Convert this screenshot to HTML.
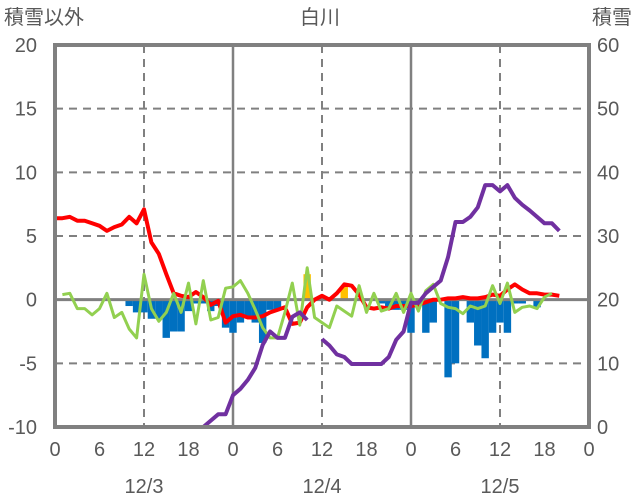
<!DOCTYPE html>
<html><head><meta charset="utf-8"><style>
html,body{margin:0;padding:0;background:#fff;}
svg{display:block;font-family:"Liberation Sans","Noto Sans CJK JP",sans-serif;}
</style></head><body>
<svg id="chart" width="636" height="501" viewBox="0 0 636 501" xmlns="http://www.w3.org/2000/svg">
<g id="grid"></g>
<g id="bars"></g>
<g id="lines"></g>
<g id="frame"></g>
<g id="labels"></g>
</svg>
<script>
const leftTicks=[20,15,10,5,0,-5,-10];
const rightTicks=[60,50,40,30,20,10,0];
const hourLabels=["0","6","12","18","0","6","12","18","0","6","12","18","0"];
const dateLabels=["12/3","12/4","12/5"];
const redSeries=[6.4,6.4,6.5,6.2,6.2,6.0,5.8,5.4,5.7,5.9,6.5,6.0,7.1,4.5,3.6,2.0,0.5,0.3,0.2,0.6,0.2,-0.4,-0.1,-1.8,-1.3,-1.2,-1.4,-1.4,-1.3,-1.0,-0.8,-0.6,-1.9,-1.8,-0.6,0.0,0.3,0.0,0.5,1.2,1.1,0.4,-0.6,-0.7,-0.6,-0.7,-0.5,-0.5,-0.5,-0.4,-0.2,0.0,0.0,0.1,0.1,0.2,0.1,0.1,0.2,0.4,0.3,0.8,1.2,0.8,0.5,0.5,0.4,0.4,0.3];
const greenSeries=[null,0.4,0.5,-0.7,-0.7,-1.2,-0.7,0.5,-1.4,-1.0,-2.3,-3.0,2.0,-0.7,-1.7,-1.0,0.5,-1.0,1.3,-1.9,1.5,-1.6,-1.4,0.9,1.0,1.5,0.5,-0.8,-2.2,-3.0,-3.0,-1.0,1.3,-2.0,2.5,-1.4,-1.8,-2.2,-0.5,-0.9,-1.3,1.1,-1.0,0.5,-0.9,-0.7,0.5,-1.0,0.5,-0.9,0.7,1.2,-0.3,-0.6,-0.7,-1.1,-0.5,-0.7,-0.5,1.1,-0.3,1.3,-1.0,-0.6,-0.5,-0.7,0.2,0.5,null];
const blueBars=[0,0,0,0,0,0,0,0,0,0,-0.5,-1.0,-1.0,-1.5,-1.5,-3.0,-2.5,-2.5,-0.9,-0.3,-0.3,-0.9,-0.5,-2.2,-2.6,-1.8,-1.3,-1.8,-3.4,-0.8,-0.8,0,0,0,0,0,0,0,0,0,0,0,0,0,-0.3,-0.8,-0.8,-0.8,-2.6,0,-2.6,-1.8,0,-6.1,-5.0,0,-1.8,-3.6,-4.6,-2.6,-1.8,-2.6,-0.3,-0.3,0,-0.6,0,0,0];
const orangeBars=[0,0,0,0,0,0,0,0,0,0,0,0,0,0,0,0,0,0,0,0,0,0,0,0,0,0,0,0,0,0,0,0,0,0,2.0,0,0,0,0,1.0,0,0,0,0,0,0,0,0,0,0,0,0,0,0,0,0,0,0,0,0,0,0,0,0,0,0,0,0,0];
const snowSeries=[0,0,0,0,0,0,0,0,0,0,0,0,0,0,0,0,0,0,0,0,0,1.0,2.0,2.0,5,6,7.4,9.3,12.9,15,14,14,17.3,18,16.8,null,13.8,12.8,11.4,11,9.9,9.9,9.9,9.9,9.9,11,13.7,15,19.5,19.5,21,22,23,26.7,32.2,32.2,33,34.5,38,38,37,38,36,34.9,34,33,32,32,30.8];

const X0=55,X1=589,Y0=45,Y1=427,HOURS=72;
const x=h=>X0+h*(X1-X0)/HOURS;
const yL=v=>Y1-(v+10)*(Y1-Y0)/30;
const yR=s=>Y1-s*(Y1-Y0)/60;
const NS="http://www.w3.org/2000/svg";
function mk(tag,parent){const e=document.createElementNS(NS,tag);parent.appendChild(e);return e;}
const grid=document.getElementById('grid'),bars=document.getElementById('bars'),lines=document.getElementById('lines'),frame=document.getElementById('frame'),labels=document.getElementById('labels');

leftTicks.forEach(v=>{
  if(v===20||v===-10||v===0)return;
  const l=mk('line',grid);
  
  
  l.setAttribute('x1',X0);l.setAttribute('x2',X1);l.setAttribute('y1',yL(v));l.setAttribute('y2',yL(v));
  l.setAttribute('stroke','#808080');l.setAttribute('stroke-width','2');l.setAttribute('stroke-dasharray','8,6');
});
for(let h=12;h<HOURS;h+=12){
  const l=mk('line',grid);
  
  
  l.setAttribute('x1',x(h));l.setAttribute('x2',x(h));l.setAttribute('y1',Y0);l.setAttribute('y2',Y1);
  l.setAttribute('stroke','#808080');
  if(h%24===12){l.setAttribute('stroke-width','2');l.setAttribute('stroke-dasharray','8,6');}
  else l.setAttribute('stroke-width','2.5');
}
const bw=(X1-X0)/HOURS;
blueBars.forEach((v,h)=>{
  if(!v)return;
  const r=mk('rect',bars);
  
  
  const ya=yL(0),yb=yL(v);
  r.setAttribute('x',x(h)-bw/2);r.setAttribute('width',bw);
  r.setAttribute('y',Math.min(ya,yb));r.setAttribute('height',Math.abs(yb-ya));
  r.setAttribute('fill','#0070c0');
});
orangeBars.forEach((v,h)=>{
  if(!v)return;
  const r=mk('rect',bars);
  
  
  const ya=yL(0),yb=yL(v);
  r.setAttribute('x',x(h)-bw/2);r.setAttribute('width',bw);
  r.setAttribute('y',Math.min(ya,yb));r.setAttribute('height',Math.abs(yb-ya));
  r.setAttribute('fill','#ffc000');
});
const zl=mk('line',bars);


zl.setAttribute('x1',X0);zl.setAttribute('x2',X1);zl.setAttribute('y1',yL(0));zl.setAttribute('y2',yL(0));
zl.setAttribute('stroke','#808080');zl.setAttribute('stroke-width','3');

function poly(arr,fy,color,w,name){
  let segs=[],cur=[];
  arr.forEach((v,h)=>{if(v===null){if(cur.length)segs.push(cur);cur=[];}else cur.push(x(h).toFixed(1)+','+fy(v).toFixed(1));});
  if(cur.length)segs.push(cur);
  segs.forEach(s=>{
    const p=mk('polyline',lines);
    
    
    p.setAttribute('points',s.join(' '));p.setAttribute('fill','none');
    p.setAttribute('stroke',color);p.setAttribute('stroke-width',w);p.setAttribute('stroke-linejoin','round');
  });
}
poly(redSeries,yL,'#ff0000',4,'red-series-line');
poly(greenSeries,yL,'#92d050',3,'green-series-line');
poly(snowSeries,yR,'#7030a0',4,'snow-depth-line');

const box=mk('rect',frame);


box.setAttribute('x',X0);box.setAttribute('y',Y0);box.setAttribute('width',X1-X0);box.setAttribute('height',Y1-Y0);
box.setAttribute('fill','none');box.setAttribute('stroke','#808080');box.setAttribute('stroke-width','4');

function txt(s,xx,yy,anchor,name,size){
  const t=mk('text',labels);
  
  
  t.setAttribute('x',xx);t.setAttribute('y',yy);t.setAttribute('text-anchor',anchor);
  t.setAttribute('font-size',size||20);t.setAttribute('fill','#595959');
  t.textContent=s;return t;
}
leftTicks.forEach(v=>txt(String(v),37,yL(v)+7,'end','left-tick-label'));
rightTicks.forEach(s=>txt(String(s),597,yR(s)+7,'start','right-tick-label'));
hourLabels.forEach((s,i)=>txt(s,x(i*6),456,'middle','x-tick-label'));
dateLabels.forEach((s,i)=>txt(s,x(12+24*i),493,'middle','date-label'));
txt('積雪以外',4,24,'start','left-axis-title',20);
txt('積雪',632,24,'end','right-axis-title',20);
txt('白川',320,24,'middle','chart-title',20);
</script>
</body></html>
